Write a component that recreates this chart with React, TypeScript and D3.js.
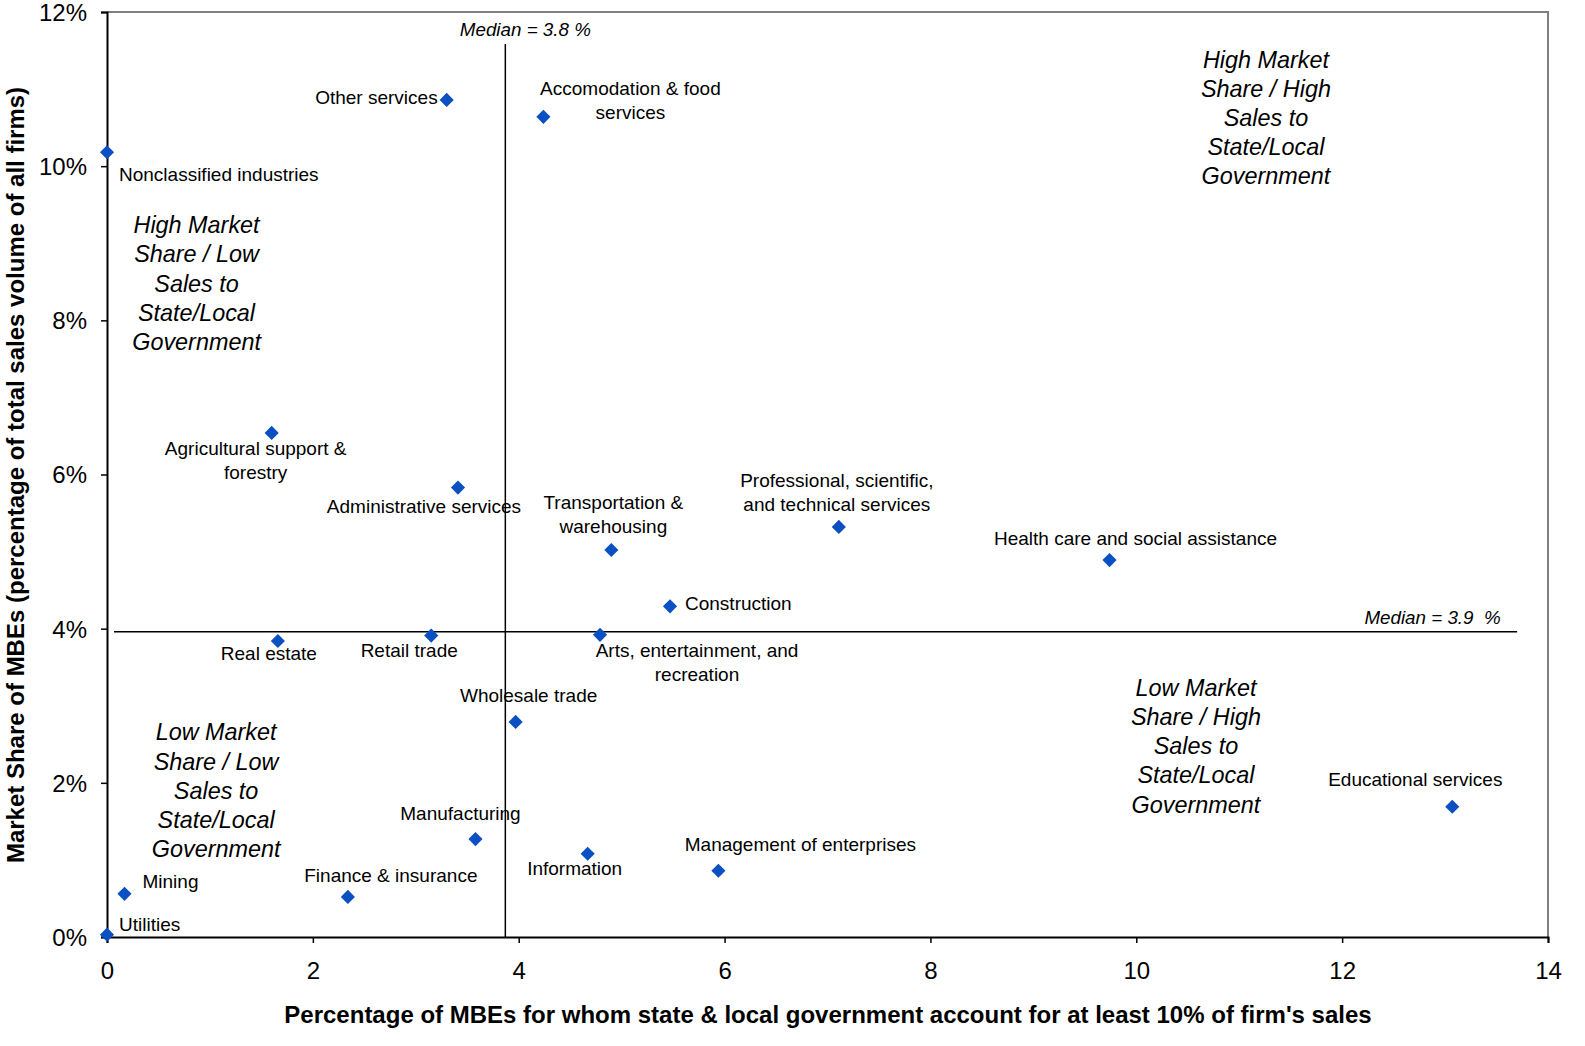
import { useEffect, useRef } from 'react';
import * as d3 from 'd3';

// industries and their values (x: % of MBEs with >=10% sales to state/local gov, y: market share %)
const INDUSTRIES = [
  'Nonclassified industries', 'Other services', 'Accomodation & food services', 'Agricultural support & forestry',
  'Administrative services', 'Transportation & warehousing', 'Professional, scientific, and technical services',
  'Health care and social assistance', 'Construction', 'Real estate', 'Retail trade',
  'Arts, entertainment, and recreation', 'Wholesale trade', 'Educational services', 'Manufacturing',
  'Information', 'Management of enterprises', 'Finance & insurance', 'Mining', 'Utilities',
];
const GOV_SHARE = [0, 3.3, 4.24, 1.6, 3.41, 4.9, 7.11, 9.74, 5.47, 1.66, 3.15, 4.79, 3.97, 13.07, 3.58, 4.67, 5.94, 2.34, 0.17, 0];
const MARKET_SHARE = [10.18, 10.86, 10.64, 6.54, 5.83, 5.02, 5.32, 4.89, 4.29, 3.84, 3.91, 3.92, 2.79, 1.69, 1.27, 1.08, 0.86, 0.52, 0.56, 0.03];

// label text lines per industry (same order)
const LABEL_LINES = [
  ['Nonclassified industries'], ['Other services'], ['Accomodation & food', 'services'], ['Agricultural support &', 'forestry'],
  ['Administrative services'], ['Transportation &', 'warehousing'], ['Professional, scientific,', 'and technical services'],
  ['Health care and social assistance'], ['Construction'], ['Real estate'], ['Retail trade'],
  ['Arts, entertainment, and', 'recreation'], ['Wholesale trade'], ['Educational services'], ['Manufacturing'],
  ['Information'], ['Management of enterprises'], ['Finance & insurance'], ['Mining'], ['Utilities'],
];
// label placement relative to point: [dx, dy of first baseline, anchor]
const LABEL_OFFSETS: [number, number, string][] = [
  [12, 29, 'start'], [-9, 4, 'end'], [87, -22, 'middle'], [-16, 22, 'middle'],
  [-34, 25, 'middle'], [2, -41, 'middle'], [-2, -40, 'middle'],
  [26, -15, 'middle'], [15, 4, 'start'], [-9, 19, 'middle'], [-22, 21, 'middle'],
  [97, 22, 'middle'], [13, -20, 'middle'], [-37, -21, 'middle'], [-15, -19, 'middle'],
  [-13, 21, 'middle'], [82, -20, 'middle'], [43, -15, 'middle'], [18, -6, 'start'], [12, -4, 'start'],
];

const MEDIAN_X = 3.87;
const MEDIAN_Y = 3.96;
const X_TICKS = [0, 2, 4, 6, 8, 10, 12, 14];
const Y_TICKS = [0, 2, 4, 6, 8, 10, 12];

const QUADRANTS = [
  { lines: ['High Market', 'Share / High', 'Sales to', 'State/Local', 'Government'], x: 11.26, y: 11.28 },
  { lines: ['High Market', 'Share / Low', 'Sales to', 'State/Local', 'Government'], x: 0.87, y: 9.13 },
  { lines: ['Low Market', 'Share / Low', 'Sales to', 'State/Local', 'Government'], x: 1.06, y: 2.55 },
  { lines: ['Low Market', 'Share / High', 'Sales to', 'State/Local', 'Government'], x: 10.58, y: 3.13 },
];

const W = 1585;
const H = 1046;
const FONT = "'Liberation Sans', Arial, sans-serif";

export default function App() {
  const ref = useRef<SVGSVGElement>(null);

  useEffect(() => {
    const el = ref.current;
    if (!el) return;
    const svg = d3.select(el);
    svg.selectAll('*').remove();

    const m = { top: 12, right: 37, bottom: 109, left: 107 };
    const iW = W - m.left - m.right;
    const iH = H - m.top - m.bottom;
    const g = svg.append('g').attr('transform', `translate(${m.left},${m.top})`);

    const x = d3.scaleLinear().domain([0, 14]).range([0, iW]);
    const y = d3.scaleLinear().domain([0, 12]).range([iH, 0]);

    // frame (top/right grey)
    g.append('path')
      .attr('d', `M0,0 H${iW} V${iH}`)
      .attr('fill', 'none').attr('stroke', '#808080').attr('stroke-width', 2);

    // axes
    const xAxis = g.append('g').attr('transform', `translate(0,${iH})`)
      .call(d3.axisBottom(x).tickValues(X_TICKS).tickSize(6).tickPadding(19).tickFormat((v) => `${v}`));
    const yAxis = g.append('g')
      .call(d3.axisLeft(y).tickValues(Y_TICKS).tickSize(6).tickPadding(14).tickFormat((v) => `${v}%`));
    [xAxis, yAxis].forEach((a) => {
      a.select('.domain').attr('stroke', '#000').attr('stroke-width', 2);
      a.selectAll('.tick line').attr('stroke', '#000').attr('stroke-width', 1.5);
      a.selectAll('text').attr('font-family', FONT).attr('font-size', '24px').attr('fill', '#000');
    });
    yAxis.selectAll('.tick text').attr('dy', '0.35em');

    // median lines
    g.append('line')
      .attr('x1', x(MEDIAN_X)).attr('x2', x(MEDIAN_X)).attr('y1', 32).attr('y2', iH)
      .attr('stroke', '#000').attr('stroke-width', 1.5);
    g.append('line')
      .attr('x1', 7).attr('x2', x(13.7)).attr('y1', y(MEDIAN_Y)).attr('y2', y(MEDIAN_Y))
      .attr('stroke', '#000').attr('stroke-width', 1.5);

    g.append('text')
      .attr('x', x(MEDIAN_X) + 20).attr('y', 24)
      .attr('text-anchor', 'middle').attr('font-style', 'italic')
      .attr('font-family', FONT).attr('font-size', '18.8px')
      .text('Median = 3.8 %');
    g.append('text')
      .attr('x', x(13.54)).attr('y', y(MEDIAN_Y) - 8)
      .attr('text-anchor', 'end').attr('font-style', 'italic')
      .attr('font-family', FONT).attr('font-size', '18.8px')
      .style('white-space', 'pre')
      .text('Median = 3.9  %');

    // quadrant labels
    QUADRANTS.forEach((q) => {
      const t = g.append('text')
        .attr('text-anchor', 'middle').attr('font-style', 'italic')
        .attr('font-family', FONT).attr('font-size', '23.4px').attr('fill', '#000');
      q.lines.forEach((line, i) => {
        t.append('tspan').attr('x', x(q.x)).attr('y', y(q.y) + i * 29.2).text(line);
      });
    });

    // points
    const diamond = d3.symbol().type(d3.symbolSquare).size(100);
    INDUSTRIES.forEach((name, i) => {
      const px = x(GOV_SHARE[i]);
      const py = y(MARKET_SHARE[i]);
      g.append('path')
        .attr('d', diamond()!)
        .attr('transform', `translate(${px},${py}) rotate(45)`)
        .attr('fill', '#0a50c2');

      const [dx, dy, anchor] = LABEL_OFFSETS[i];
      const t = g.append('text')
        .attr('text-anchor', anchor)
        .attr('font-family', FONT).attr('font-size', '19px').attr('fill', '#000');
      LABEL_LINES[i].forEach((line, k) => {
        t.append('tspan').attr('x', px + dx).attr('y', py + dy + k * 24).text(line);
      });
    });

    // axis titles
    svg.append('text')
      .attr('x', 828).attr('y', 1023)
      .attr('text-anchor', 'middle').attr('font-weight', 'bold')
      .attr('font-family', FONT).attr('font-size', '24px')
      .text("Percentage of MBEs for whom state & local government account for at least 10% of firm's sales");
    svg.append('text')
      .attr('transform', `translate(24,475) rotate(-90)`)
      .attr('text-anchor', 'middle').attr('font-weight', 'bold')
      .attr('font-family', FONT).attr('font-size', '24px')
      .text('Market Share of MBEs (percentage of total sales volume of all firms)');
  }, []);

  return (
    <svg
      ref={ref}
      width={W}
      height={H}
      style={{ position: 'absolute', left: 0, top: 0, background: '#fff' }}
    />
  );
}
